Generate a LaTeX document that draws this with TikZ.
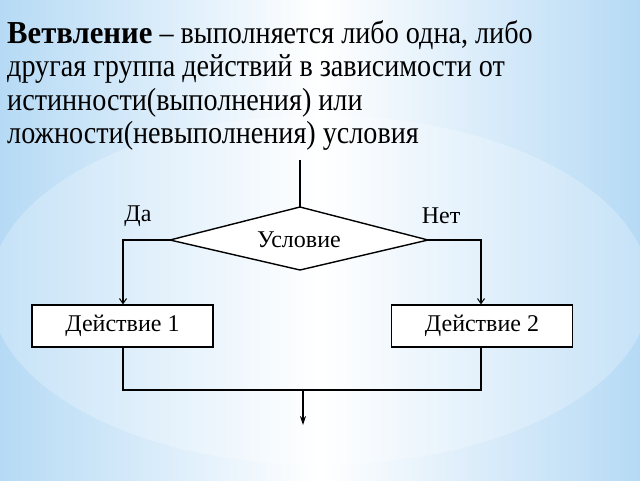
\documentclass[tikz,border=0pt]{standalone}
\usepackage{fontspec}
\setmainfont{Liberation Serif}
\newfontfamily\titlefont{Liberation Serif}[FakeStretch=0.88,BoldFeatures={FakeStretch=0.96}]
\usetikzlibrary{arrows.meta,shapes.geometric}
\definecolor{bgblue}{HTML}{B6DAF5}
\begin{document}
\begin{tikzpicture}[x=1pt,y=-1pt,
  line/.style={line width=1.4pt,black},
  box/.style={draw,line width=1.2pt,fill=white,minimum width=181pt,minimum height=42pt,inner sep=0pt,font=\fontsize{24}{30}\selectfont},
  lbl/.style={font=\fontsize{24}{30}\selectfont,inner sep=0pt},
  tline/.style={anchor=base west,inner sep=0pt,font=\titlefont\fontsize{32}{34}\selectfont},
  branch/.style={line,-{Straight Barb[length=5pt,width=7pt,line width=1pt]}},
  final/.style={line,-{Stealth[length=9pt,width=6pt]}}]
\useasboundingbox (0,0) rectangle (640,480);
\shade[left color=bgblue,right color=bgblue,middle color=white] (0,0) rectangle (640,480);
\begin{scope}
\clip (0,0) rectangle (640,480);
\shade[left color=bgblue!80,right color=bgblue!80,middle color=white] (320,290) ellipse (330 and 175);
\end{scope}
% title text
\node[tline] (t1) at (7,43) {\textbf{Ветвление} – выполняется либо одна, либо};
\node[tline] (t2) at (7,76.5) {другая группа действий в зависимости от};
\node[tline] (t3) at (7,110) {истинности(выполнения) или};
\node[tline] (t4) at (7,143.5) {ложности(невыполнения) условия};
% diamond
\coordinate (in) at (300,160);
\coordinate (dt) at (300,207);
\coordinate (dl) at (170,240);
\coordinate (dr) at (428,240);
\coordinate (db) at (300,270);
\filldraw[line,fill=white] (dt) -- (dr) -- (db) -- (dl) -- cycle;
\node[lbl] (cond) at (299,240) {Условие};
\draw[line] (in) -- (dt);
\node[lbl] (yes) at (138,216) {Да};
\node[lbl] (no) at (441,216) {Нет};
\node[box] (a1) at (122.5,326) {Действие 1};
\node[box] (a2) at (482,326) {Действие 2};
\draw[branch] (dl) -- (123,240) -- (a1.north -| 123,0);
\draw[branch] (dr) -- (481,240) -- (a2.north -| 481,0);
\coordinate (j1) at (123,390);
\coordinate (j2) at (481,390);
\coordinate (jm) at (303,390);
\coordinate (out) at (303,425);
\draw[line] (a1.south -| j1) -- (j1) -- (j2) -- (a2.south -| j2);
\draw[final] (jm) -- (out);
\end{tikzpicture}
\end{document}
